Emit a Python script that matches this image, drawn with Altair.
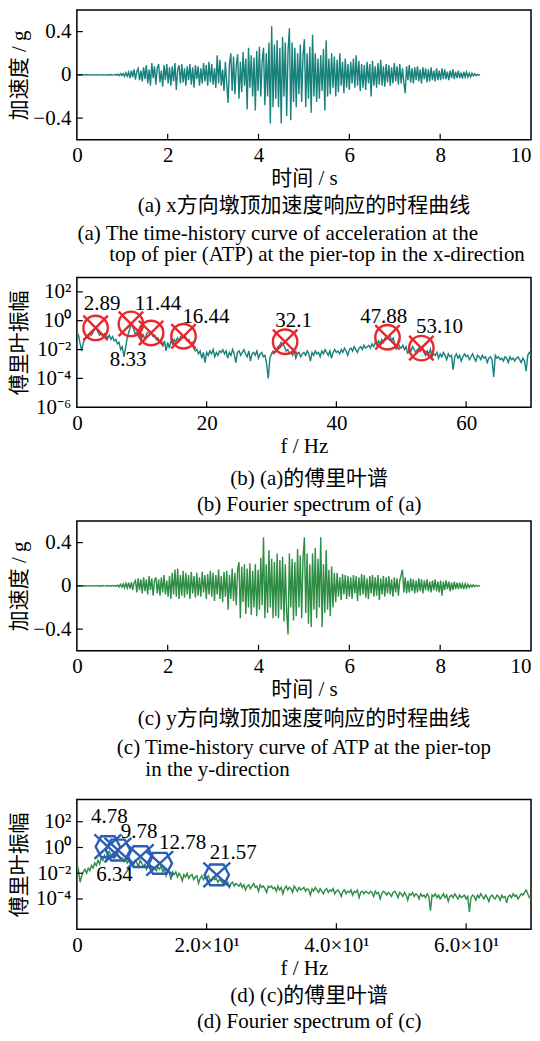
import altair as alt
import numpy as np
import pandas as pd

FONT = "Liberation Serif, Noto Sans CJK SC"
TEAL = "#17817b"
GREEN = "#2e8d44"
RED = "#e8262b"
BLUE = "#2a5db5"
NB = "\u00a0"
ZW = "\u200b"

# ---------------- data ----------------
DT = 0.03  # s, sampling step of the acceleration records
ACC_X = [
    0, 0.001, -0.001, 0.002, 0, -0.002, 0.001, 0.003, -0.001, 0, 0.002, -0.002, 0.001, 0, -0.001,
    0.002, 0, -0.002, 0.001, 0.002, -0.001, 0, 0.002, -0.003, 0.001, 0.003, -0.002, 0, 0.004, -0.003,
    0.006, -0.008, 0.01, -0.006, 0.012, -0.015, 0.02, -0.012, 0.025, -0.03,
    0.04, -0.02, 0.05, -0.045, 0.03, 0.06, -0.05, 0.04, -0.06, 0.07,
    -0.04, 0.09, -0.08, 0.05, -0.1, 0.11, -0.03, 0.08, -0.09, 0.06,
    0.1, -0.07, 0.04, -0.11, 0.09, -0.05, 0.1, -0.08, 0.07, -0.1,
    0.08, -0.06, 0.11, -0.14, 0.05, 0.09, -0.08, 0.1, -0.07, 0.06,
    -0.1, 0.08, -0.05, 0.1, -0.09, 0.07, -0.12, 0.09, -0.04, 0.08,
    -0.1, 0.06, -0.08, 0.11, -0.06, 0.09, -0.1, 0.12, -0.07, 0.1,
    -0.09, 0.06, -0.12, 0.18, -0.08, 0.14, -0.1, 0.05, -0.15, 0.12,
    -0.08, -0.26, 0.1, 0.2, -0.15, 0.17, -0.18, 0.08, 0.19, -0.22,
    0.12, -0.16, 0.21, -0.1, 0.15, -0.32, 0.25, -0.12, 0.18, -0.2,
    0.16, -0.33, 0.22, -0.15, 0.26, -0.2, 0.12, 0.25, -0.28, 0.2,
    -0.2, 0.3, -0.45, 0.45, -0.3, 0.28, -0.22, 0.32, -0.3, 0.25,
    -0.45, 0.35, -0.2, 0.3, -0.38, 0.22, 0.43, -0.42, 0.3, -0.25,
    0.25, -0.3, 0.2, -0.18, 0.28, -0.25, 0.18, 0.33, -0.3, 0.2,
    -0.22, 0.26, -0.35, 0.37, -0.2, 0.2, -0.25, 0.15, -0.22, 0.18,
    -0.15, 0.24, -0.33, 0.32, -0.2, 0.15, -0.18, 0.2, -0.12, 0.17,
    -0.2, 0.14, -0.16, 0.2, -0.1, 0.12, -0.17, 0.15, -0.12, 0.1,
    -0.14, 0.12, -0.08, 0.15, -0.12, 0.18, -0.1, 0.13, -0.15, 0.1,
    -0.12, 0.09, -0.14, 0.12, -0.08, 0.1, -0.2, 0.13, -0.1, 0.08,
    -0.12, 0.11, -0.09, 0.14, -0.1, 0.08, -0.11, 0.1, -0.07, 0.09,
    -0.1, 0.07, -0.08, 0.11, -0.06, 0.08, -0.09, 0.1, -0.08, 0.06,
    -0.07, -0.17, 0.08, -0.05, 0.09, -0.07, 0.06, -0.08, 0.07, -0.05,
    0.08, -0.06, 0.05, -0.08, 0.07, -0.04, 0.06, -0.07, 0.05, -0.06,
    0.07, -0.05, 0.04, -0.06, 0.06, -0.05, 0.04, -0.05, 0.06, -0.04,
    0.05, -0.04, 0.03, -0.05, 0.04, -0.03, 0.05, -0.04, 0.03, -0.03,
    0.04, -0.03, 0.02, -0.035, 0.03, -0.02, 0.025, -0.02, 0.015, -0.02,
    0.015, -0.01, 0.01, -0.008, 0.005, -0.003, 0.0,
]
ACC_Y = [
    0, -0.001, 0.001, 0, 0.002, -0.001, 0.001, -0.002, 0.002, 0, -0.001, 0.002, -0.002, 0.001, 0,
    0.002, -0.001, 0.001, -0.002, 0.003, 0, -0.002, 0.003, -0.001, 0.002, -0.003, 0.004, -0.002, 0.003, -0.005,
    0.008, -0.01, 0.015, -0.012, 0.02, -0.018, 0.025, -0.02, 0.03, -0.025,
    0.035, -0.04, 0.03, 0.05, -0.06, 0.07, -0.04, 0.06, -0.07, 0.08,
    -0.05, 0.06, -0.08, 0.09, -0.04, 0.07, -0.09, 0.05, 0.08, -0.07,
    0.06, -0.09, 0.08, -0.06, 0.1, -0.08, 0.05, -0.1, 0.09, -0.12,
    0.12, -0.08, 0.15, -0.1, 0.16, -0.12, 0.1, -0.09, 0.14, -0.11,
    0.12, -0.08, 0.1, -0.12, 0.13, -0.07, 0.09, -0.11, 0.12, -0.09,
    0.08, -0.1, 0.13, -0.06, 0.1, -0.12, 0.11, -0.08, 0.14, -0.1,
    0.12, -0.14, 0.1, -0.08, 0.15, -0.12, 0.09, -0.15, 0.13, -0.1,
    0.14, -0.22, 0.1, -0.12, 0.16, -0.14, 0.12, -0.18, 0.15, 0.22,
    -0.3, 0.18, -0.15, 0.2, -0.26, 0.16, -0.2, 0.21, -0.27, 0.14,
    -0.2, 0.2, -0.28, 0.15, -0.22, 0.26, -0.18, 0.45, -0.3, 0.2,
    -0.25, 0.33, -0.2, 0.25, -0.3, 0.22, -0.28, 0.3, -0.3, 0.24,
    -0.22, 0.27, -0.33, 0.2, -0.25, -0.45, 0.3, -0.2, 0.25, -0.32,
    0.22, -0.28, 0.34, -0.2, 0.28, -0.3, 0.25, 0.45, -0.25, 0.3,
    -0.35, 0.2, -0.38, 0.3, -0.22, 0.35, -0.3, 0.25, -0.2, 0.45,
    -0.38, 0.2, -0.25, 0.33, -0.22, 0.15, -0.28, 0.18, -0.2, 0.12,
    -0.15, 0.12, -0.1, 0.08, -0.13, 0.11, -0.08, 0.1, -0.12, 0.09,
    -0.1, 0.08, -0.12, 0.1, -0.07, 0.09, -0.14, 0.08, -0.09, 0.11,
    -0.08, 0.1, -0.11, 0.07, -0.12, 0.09, -0.07, 0.1, -0.1, 0.08,
    -0.09, 0.1, -0.13, 0.07, -0.08, 0.09, -0.1, 0.08, -0.07, 0.09,
    -0.08, 0.06, -0.1, 0.08, -0.06, 0.07, -0.09, 0.05, 0.1, 0.15,
    -0.06, 0.08, -0.07, 0.05, -0.06, 0.07, -0.05, 0.06, -0.07, 0.05,
    -0.06, 0.07, -0.05, 0.06, -0.07, 0.05, -0.04, 0.06, -0.05, 0.04,
    -0.06, 0.05, -0.04, 0.06, -0.05, 0.04, -0.06, 0.05, -0.09, 0.04,
    -0.04, 0.05, -0.03, 0.04, -0.05, 0.03, -0.04, 0.04, -0.03, 0.03,
    -0.03, 0.03, -0.025, 0.02, -0.03, 0.02, -0.02, 0.015, -0.015, 0.01,
    -0.01, 0.01, -0.008, 0.005, -0.004, 0.002, 0.0,
]

DF = 0.25  # Hz, frequency step of the spectra
# log10 of the Fourier amplitude
SPEC_X = [
    -1.2, -1.0, -1.6, -2.1, -1.5, -1.3, -1.1, -1.2, -0.9, -1.0, -0.8, -0.6, -0.5, -0.8, -1.0, -0.9, -1.1, -0.9, -1.0, -1.2,
    -1.0, -1.3, -1.1, -1.4, -1.3, -1.6, -1.5, -2.0, -1.8, -2.5, -1.9, -1.2, -0.8, -0.4, -0.3, -0.6, -0.9, -0.8, -1.1, -0.9,
    -1.2, -1.0, -1.3, -0.9, -0.8, -0.7, -0.9, -1.1, -1.0, -1.3, -1.2, -1.5, -1.3, -1.8, -1.4, -2.1, -1.5, -1.9, -1.4, -1.6,
    -1.3, -1.5, -1.2, -1.4, -1.1, -1.0, -1.2, -1.1, -1.4, -1.3, -1.6, -1.5, -1.9, -2.1, -2.0, -2.3, -2.1, -2.6, -2.2, -2.9,
    -2.2, -2.4, -2.1, -2.3, -2.0, -2.5, -2.2, -2.4, -2.1, -2.2, -2.0, -2.3, -2.1, -2.6, -2.2, -2.4, -2.0, -2.3, -2.9, -2.2,
    -2.1, -2.4, -2.2, -2.0, -2.3, -2.5, -2.1, -2.8, -2.3, -2.2, -2.4, -2.1, -2.6, -2.3, -2.2, -2.5, -2.4, -3.0, -4.0, -2.6,
    -2.3, -2.1, -2.2, -2.0, -1.8, -1.7, -1.5, -1.6, -1.8, -2.1, -2.0, -2.3, -2.2, -2.4, -2.1, -2.6, -2.3, -2.2, -2.5, -2.3,
    -2.2, -2.4, -2.1, -2.3, -2.8, -2.2, -2.4, -2.1, -2.3, -2.2, -2.5, -2.1, -2.3, -2.0, -2.2, -2.4, -2.1, -2.6, -2.2, -2.0,
    -2.2, -2.1, -2.3, -2.0, -2.2, -1.9, -2.1, -2.4, -2.0, -1.9, -2.1, -1.8, -2.0, -2.2, -1.9, -1.8, -2.0, -1.7, -1.9, -1.8,
    -1.7, -1.9, -1.6, -1.8, -1.5, -1.7, -1.4, -1.6, -1.3, -1.5, -1.2, -1.3, -1.1, -1.0, -1.4, -1.2, -1.6, -2.0, -1.5, -1.8,
    -1.9, -1.7, -2.0, -1.8, -2.3, -1.9, -2.1, -1.8, -2.0, -2.2, -2.0, -1.9, -2.1, -1.8, -2.2, -2.4, -2.1, -2.3, -2.0, -2.5,
    -2.3, -2.4, -2.2, -2.6, -2.3, -2.5, -2.2, -2.4, -2.7, -2.3, -2.5, -2.4, -3.4, -2.5, -2.3, -2.6, -2.4, -2.8, -2.5, -2.3,
    -2.5, -2.4, -2.7, -2.5, -2.3, -2.6, -2.8, -2.4, -2.5, -2.7, -2.4, -2.6, -2.5, -2.9, -2.6, -2.5, -2.7, -3.9, -2.4, -2.6,
    -2.5, -2.7, -2.6, -2.8, -2.5, -2.6, -2.9, -2.5, -2.7, -2.6, -2.8, -2.6, -2.5, -2.7, -2.9, -2.6, -2.8, -3.5, -2.4, -2.2,
    -2.3,
]
SPEC_Y = [
    -1.2, -1.8, -2.7, -2.2, -1.9, -1.7, -2.0, -1.6, -1.8, -1.4, -1.6, -1.2, -1.4, -1.0, -1.3, -0.8, -1.0, -0.6, -0.9, -0.4,
    -0.3, -0.6, -0.5, -0.8, -0.5, -0.45, -0.7, -0.9, -0.8, -1.1, -0.9, -1.2, -1.0, -1.3, -1.1, -1.4, -1.0, -1.2, -1.5, -1.0,
    -1.2, -1.5, -1.3, -1.7, -1.4, -1.6, -1.9, -1.5, -1.6, -1.8, -1.5, -1.7, -1.4, -1.9, -1.6, -2.2, -1.8, -2.0, -2.5, -1.9,
    -2.1, -1.9, -2.3, -2.0, -2.2, -2.6, -2.1, -2.3, -2.0, -2.4, -2.2, -2.1, -2.5, -2.3, -2.2, -2.8, -2.4, -2.2, -2.5, -2.3,
    -2.4, -2.2, -2.5, -2.6, -2.3, -2.5, -2.4, -2.7, -2.5, -2.6, -2.8, -2.6, -2.9, -2.7, -3.1, -2.8, -2.7, -3.0, -2.8, -2.9,
    -3.0, -2.8, -3.1, -2.9, -3.3, -3.0, -2.9, -3.2, -3.0, -2.8, -3.1, -3.0, -3.4, -2.9, -3.1, -3.0, -3.2, -3.5, -3.0, -3.1,
    -3.0, -3.2, -3.1, -3.4, -3.0, -3.3, -3.1, -3.6, -3.2, -3.0, -3.3, -3.1, -3.2, -3.5, -3.0, -3.2, -3.4, -3.1, -3.3, -3.2,
    -3.1, -3.4, -3.2, -3.3, -3.7, -3.2, -3.4, -3.1, -3.3, -3.5, -3.2, -3.4, -3.6, -3.3, -3.2, -3.5, -3.3, -3.4, -3.2, -3.6,
    -3.4, -3.3, -3.5, -3.8, -3.4, -3.3, -3.6, -3.4, -3.5, -3.3, -3.7, -3.4, -3.5, -3.3, -3.9, -3.5, -3.4, -3.6, -3.4, -3.5,
    -3.6, -3.4, -3.5, -3.8, -3.4, -3.6, -3.5, -4.0, -3.6, -3.4, -3.5, -3.7, -3.5, -3.6, -3.8, -3.5, -3.4, -3.6, -3.9, -3.5,
    -3.6, -3.8, -3.5, -3.7, -4.1, -3.6, -3.7, -3.5, -3.8, -3.6, -3.7, -4.0, -3.6, -3.8, -3.7, -3.9, -3.6, -3.8, -4.9, -3.7,
    -3.8, -3.6, -3.9, -3.7, -4.0, -3.8, -3.6, -3.9, -3.7, -4.2, -3.8, -3.7, -3.9, -3.6, -3.8, -4.0, -3.7, -3.9, -3.8, -3.7,
    -4.0, -3.8, -5.0, -3.9, -3.7, -3.8, -4.1, -3.7, -3.9, -3.6, -3.8, -4.0, -3.7, -3.9, -4.2, -3.8, -3.7, -3.9, -4.0, -3.7,
    -3.8, -4.1, -3.7, -3.9, -3.8, -4.3, -3.8, -3.7, -3.9, -3.6, -3.8, -3.7, -4.0, -3.8, -3.6, -3.7, -3.5, -3.3, -3.6, -3.9,
    -3.9,
]

# identified peaks (frequency, log10 amplitude of the marker) and their labels
PEAK_B_F = [2.89, 8.33, 11.44, 16.44, 32.1, 47.88, 53.10]
PEAK_B_A = [-0.5, -0.22, -0.85, -1.08, -1.46, -1.15, -1.9]
PEAK_B_TXT = ["2.89", "8.33", "11.44", "16.44", "32.1", "47.88", "53.10"]
PEAK_B_TXT_F = [3.9, 7.9, 12.5, 19.9, 33.4, 47.3, 55.9]
PEAK_B_TXT_A = [1.18, -2.74, 1.18, 0.25, 0.01, 0.25, -0.45]

PEAK_D_F = [4.78, 6.34, 9.78, 12.78, 21.57]
PEAK_D_A = [0.06, -0.2, -0.71, -1.23, -2.13]
PEAK_D_TXT = ["4.78", "6.34", "9.78", "12.78", "21.57"]
PEAK_D_TXT_F = [5.0, 5.8, 9.6, 16.3, 24.1]
PEAK_D_TXT_A = [2.39, -2.13, 1.22, 0.32, -0.45]

T_TICKS = [0, 2, 4, 6, 8, 10]
ACC_TICKS = [-0.4, 0, 0.4]
F_TICKS = [0, 20, 40, 60]
F_TICK_LABELS_D = ["0", "2.0×10¹", "4.0×10¹", "6.0×10¹"]
LOG_TICKS_B = [100, 1, 0.01, 1e-4, 1e-6]
LOG_TICK_LABELS_B = ["10²", "10⁰", "10⁻²", "10⁻⁴", "10⁻⁶"]
LOG_TICKS_D = [100, 1, 0.01, 1e-4]
LOG_TICK_LABELS_D = ["10²", "10⁰", "10⁻²", "10⁻⁴"]


def pad(text, left=0, right=0):
    return ZW + NB * left + text + NB * right + ZW


A_CN = "(a) x方向墩顶加速度响应的时程曲线"
A_EN = [pad("(a) The time-history curve of acceleration at the", right=10),
        pad("top of pier (ATP) at the pier-top in the x-direction", left=5)]
B_CN = pad("(b) (a)的傅里叶谱", left=2)
B_EN = [pad("(b) Fourier spectrum of (a)", left=2)]
C_CN = "(c) y方向墩顶加速度响应的时程曲线"
C_EN = ["(c) Time-history curve of ATP at the pier-top",
        pad("in the y-direction", right=33)]
D_CN = pad("(d) (c)的傅里叶谱", left=2)
D_EN = [pad("(d) Fourier spectrum of (c)", left=2)]

# ---------------- layout constants ----------------
W = 455
H = 130
TICK = 6
CIRCLE_X = "M1,0A1,1,0,1,1,-1,0A1,1,0,1,1,1,0M-1,-1L1,1M-1,1L1,-1"
HEX_X = "M1,0L0.55,0.85L-0.55,0.85L-1,0L-0.55,-0.85L0.55,-0.85ZM-1.1,-1L1.1,1M-1.1,1L1.1,-1"


def label_expr(values, labels):
    parts = []
    for v, lab in zip(values, labels):
        parts.append(f"abs(datum.value - {v}) < {abs(v) * 1e-3 + 1e-12} ? '{lab}'")
    return " : ".join(parts) + " : ''"


def caption(cn, en, offset=9, sub_pad=7):
    return alt.TitleParams(
        text=cn, subtitle=en, orient="bottom", anchor="middle", frame="group",
        font=FONT, fontSize=21, fontWeight="normal", color="black",
        subtitleFont=FONT, subtitleFontSize=21, subtitleColor="black",
        subtitleLineHeight=22, subtitlePadding=sub_pad, offset=offset, lineHeight=21,
    )


def y_axis(title, values, expr=None, fmt=None):
    kw = dict(title=title, values=values, minExtent=42, maxExtent=42, titlePadding=5,
              labelPadding=6)
    if expr:
        kw["labelExpr"] = expr
    if fmt:
        kw["format"] = fmt
    return alt.Axis(**kw)


def x_axis(title, values, expr=None, last_right=False):
    kw = dict(title=title, values=values, labelPadding=5, titlePadding=2, format="d",
              labelFlush=False)
    if expr:
        kw["labelExpr"] = expr
    if last_right:
        kw["labelAlign"] = {"condition": {"test": f"datum.value >= {values[-1]}", "value": "right"},
                            "value": "center"}
    return alt.Axis(**kw)


def time_panel(acc, color, cap):
    df = pd.DataFrame({"t": np.arange(len(acc)) * DT, "a": acc})
    xs = alt.Scale(domain=[0, 10], nice=False, zero=False)
    ys = alt.Scale(domain=[-0.6, 0.6], nice=False, zero=False)
    X = alt.X("t:Q", scale=xs, axis=x_axis("时间 / s", T_TICKS, last_right=True))
    Y = alt.Y("a:Q", scale=ys, axis=y_axis("加速度 / g", ACC_TICKS, fmt="~g"))
    line = alt.Chart(df).mark_line(color=color, strokeWidth=1.4, clip=True).encode(x=X, y=Y)
    yt = alt.Chart(pd.DataFrame({"a": ACC_TICKS})).mark_rule(color="black", strokeWidth=1.2).encode(
        y=Y, x=alt.value(0), x2=alt.value(TICK))
    xt = alt.Chart(pd.DataFrame({"t": T_TICKS[1:-1]})).mark_rule(color="black", strokeWidth=1.2).encode(
        x=X, y=alt.value(H), y2=alt.value(H - TICK))
    return alt.layer(line, yt, xt).properties(width=W, height=H, title=cap)


def spec_panel(spec, color, peak_f, peak_a, txt, txt_f, txt_a, mcolor, shape,
               ydom, yticks, ylabels, xlabels_expr, cap):
    df = pd.DataFrame({"f": np.arange(len(spec)) * DF, "amp": [10 ** v for v in spec]})
    xs = alt.Scale(domain=[0, 70], nice=False, zero=False)
    ys = alt.Scale(type="log", domain=ydom, nice=False)
    X = alt.X("f:Q", scale=xs, axis=x_axis("f / Hz", F_TICKS, xlabels_expr))
    Y = alt.Y("amp:Q", scale=ys, axis=y_axis("傅里叶振幅", yticks, expr=label_expr(yticks, ylabels)))
    line = alt.Chart(df).mark_line(color=color, strokeWidth=1.4, clip=True).encode(x=X, y=Y)
    mk = alt.Chart(pd.DataFrame({"f": peak_f, "amp": [10 ** v for v in peak_a]})).mark_point(
        shape=shape, size=600, filled=False, stroke=mcolor, strokeWidth=2.4, opacity=1).encode(x=X, y=Y)
    tx = alt.Chart(pd.DataFrame({"f": txt_f, "amp": [10 ** v for v in txt_a], "txt": txt})).mark_text(
        font=FONT, fontSize=21, color="black", align="center", baseline="middle").encode(
        x=X, y=Y, text="txt:N")
    yt = alt.Chart(pd.DataFrame({"amp": [v for v in yticks if v > ydom[0] * 1.5]})).mark_rule(
        color="black", strokeWidth=1.2).encode(y=Y, x=alt.value(0), x2=alt.value(TICK))
    xt = alt.Chart(pd.DataFrame({"f": F_TICKS[1:]})).mark_rule(color="black", strokeWidth=1.2).encode(
        x=X, y=alt.value(H), y2=alt.value(H - TICK))
    return alt.layer(line, mk, tx, yt, xt).properties(width=W, height=H, title=cap)


pa = time_panel(ACC_X, TEAL, caption(A_CN, A_EN, offset=6, sub_pad=7))
pb = spec_panel(SPEC_X, TEAL, PEAK_B_F, PEAK_B_A, PEAK_B_TXT, PEAK_B_TXT_F, PEAK_B_TXT_A, RED, CIRCLE_X,
                [1e-6, 1e3], LOG_TICKS_B, LOG_TICK_LABELS_B, None, caption(B_CN, B_EN, offset=12, sub_pad=5))
pc = time_panel(ACC_Y, GREEN, caption(C_CN, C_EN, offset=8, sub_pad=8))
pd_ = spec_panel(SPEC_Y, GREEN, PEAK_D_F, PEAK_D_A, PEAK_D_TXT, PEAK_D_TXT_F, PEAK_D_TXT_A, BLUE, HEX_X,
                 [10 ** -6.35, 10 ** 3.73], LOG_TICKS_D, LOG_TICK_LABELS_D,
                 label_expr(F_TICKS, F_TICK_LABELS_D), caption(D_CN, D_EN, offset=7, sub_pad=5))

top = alt.vconcat(pa, pb, spacing=10)
bottom = alt.vconcat(pc, pd_, spacing=18)
chart = alt.vconcat(top, bottom, spacing=4).properties(
    padding={"left": 0, "top": 0, "right": 0, "bottom": 0}
).configure_view(stroke="black", strokeWidth=1.5).configure_axis(
    domain=False, ticks=False, grid=False,
    labelFont=FONT, labelFontSize=21, labelColor="black",
    titleFont=FONT, titleFontSize=21, titleFontWeight="normal", titleColor="black",
)

chart.save("out.html", embed_options={"renderer": "svg", "actions": False})
